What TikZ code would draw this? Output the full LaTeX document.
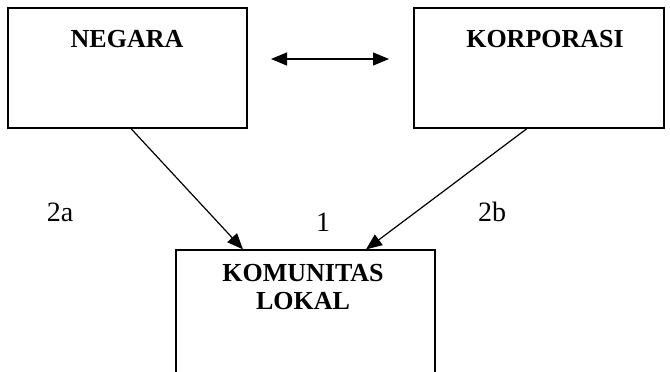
\documentclass[tikz,border=0pt]{standalone}
\usepackage{fontspec}
\setmainfont{Liberation Serif}
\usetikzlibrary{arrows.meta,calc}
\begin{document}
\begin{tikzpicture}[x=1pt,y=-1pt,
  box/.style={draw,line width=1.2pt,minimum width=239pt,minimum height=120pt,inner sep=0pt},
  title/.style={font=\fontsize{26}{28}\selectfont\bfseries,align=center},
  num/.style={font=\fontsize{28}{30}\selectfont},
  tip/.tip={Triangle[length=16pt,width=13pt]},
  link/.style={line width=1.2pt,-tip},
  both/.style={line width=1.2pt,tip-tip}]
\useasboundingbox (0,0) rectangle (670,372);
\clip (0,0) rectangle (670,372);
% the three parties
\node[box] (neg) at (127.5,68) {};
\node[box,minimum width=250pt] (kor) at (539,68) {};
\node[box,minimum width=259pt,minimum height=140pt] (kom) at (305.5,320) {};
\node[title] (negt) at (127,39) {NEGARA};
\node[title] (kort) at (545,39) {KORPORASI};
\node[title] (komt) at (303,287) {KOMUNITAS\\LOKAL};
% relations
\coordinate (dl) at (271,59);
\coordinate (dr) at (389,59);
\draw[both] (dl) -- (dr);
\draw[link] ($(neg.south)+(3.5,0)$) -- ($(kom.north)+(-62.5,0)$);
\draw[link] ($(kor.south)+(-12,0)$) -- ($(kom.north)+(60.5,0)$);
% labels
\node[num] (l2a) at (60,212) {2a};
\node[num] (l1) at (323,222) {1};
\node[num] (l2b) at (492,212) {2b};
\end{tikzpicture}
\end{document}
